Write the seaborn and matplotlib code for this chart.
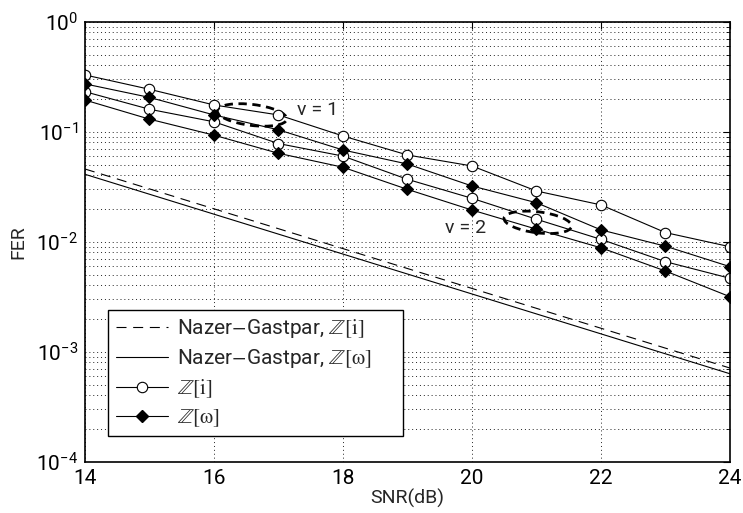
import matplotlib
matplotlib.use("Agg")
import matplotlib.pyplot as plt
import seaborn as sns
from matplotlib.patches import Ellipse
from matplotlib.lines import Line2D
from matplotlib.transforms import IdentityTransform

# data
snr = [14, 15, 16, 17, 18, 19, 20, 21, 22, 23, 24]
zi_v1 = [0.328, 0.243, 0.175, 0.142, 0.0914, 0.0614, 0.0488, 0.0289, 0.0216, 0.0121, 0.0090]
zw_v1 = [0.272, 0.205, 0.142, 0.104, 0.0682, 0.0508, 0.0321, 0.0226, 0.0128, 0.0091, 0.00593]
zi_v2 = [0.231, 0.160, 0.123, 0.078, 0.060, 0.0369, 0.0248, 0.0160, 0.0105, 0.00658, 0.00465]
zw_v2 = [0.194, 0.130, 0.093, 0.0636, 0.0475, 0.0299, 0.0194, 0.0130, 0.0088, 0.00541, 0.00316]

# Nazer-Gastpar bounds (straight lines on the log axis)
ng_snr = [14, 24]
ng_zi = [0.0458, 0.00071]
ng_zw = [0.0410, 0.00063]

sns.set_style("white")
plt.rcParams["font.family"] = ["Roboto", "DejaVu Sans"]
plt.rcParams["mathtext.fontset"] = "stix"

fig = plt.figure(figsize=(7.43, 5.13), dpi=100)
ax = fig.add_axes([85 / 743, 1 - 461.7 / 513, 645 / 743, 440 / 513])

line_kw = dict(color="black", linewidth=0.8, ax=ax)
ax.plot(ng_snr, ng_zi, color="black", lw=0.8, dashes=(9, 6))
ax.plot(ng_snr, ng_zw, color="black", lw=0.8)

for vals in (zi_v1, zi_v2):
    sns.lineplot(x=snr, y=vals, marker="o", markersize=7.5, markerfacecolor="white",
                 markeredgecolor="black", markeredgewidth=0.8, **line_kw)
for vals in (zw_v1, zw_v2):
    sns.lineplot(x=snr, y=vals, marker="D", markersize=6.5, markerfacecolor="black",
                 markeredgecolor="black", markeredgewidth=0.8, **line_kw)

ax.set_yscale("log")
ax.set_xlim(14, 24)
ax.set_ylim(1e-4, 1)
ax.set_xticks([14, 16, 18, 20, 22, 24])
ax.xaxis.set_minor_locator(matplotlib.ticker.NullLocator())

grid_kw = dict(color="#222222", linewidth=0.7, linestyle=(0, (1, 3)))
ax.grid(True, which="major", **grid_kw)
ax.yaxis.grid(True, which="minor", **grid_kw)
ax.tick_params(which="both", direction="in", top=True, right=True, colors="black",
               labelsize=15, pad=5)
ax.tick_params(which="major", length=5, width=0.8)
ax.tick_params(which="minor", length=3, width=0.6)
for s in ax.spines.values():
    s.set_color("black")
    s.set_linewidth(1.2)

ax.set_xlabel("SNR(dB)", fontsize=14, labelpad=1)
ax.set_ylabel("FER", fontsize=14, labelpad=6)

# dashed ellipses marking the v = 1 and v = 2 curves
def ring(x, y, w, h, angle):
    cx, cy = ax.transData.transform((x, y))
    ax.add_patch(Ellipse((cx, cy), w, h, angle=angle, transform=IdentityTransform(),
                         fill=False, edgecolor="black", lw=2.0, linestyle=(0, (3, 2))))

ring(16.59, 0.142, 70, 21, -7)
ring(21.02, 0.0150, 68, 21, -7)
ax.text(17.29, 0.157, "v = 1", fontsize=14, ha="left", va="center")
ax.text(19.58, 0.0133, "v = 2", fontsize=14, ha="left", va="center")

handles = [
    Line2D([], [], color="black", lw=0.8, dashes=(9, 6)),
    Line2D([], [], color="black", lw=0.8),
    Line2D([], [], color="black", lw=0.8, marker="o", markersize=7.5,
           markerfacecolor="white", markeredgewidth=0.8),
    Line2D([], [], color="black", lw=0.8, marker="D", markersize=6.5,
           markerfacecolor="black"),
]
labels = [r"Nazer$-$Gastpar, $\mathbb{Z}[\mathrm{i}]$",
          r"Nazer$-$Gastpar, $\mathbb{Z}[\mathrm{ω}]$",
          r"$\mathbb{Z}[\mathrm{i}]$",
          r"$\mathbb{Z}[\mathrm{ω}]$"]
leg = ax.legend(handles, labels, loc="lower left",
                bbox_to_anchor=(0.036, 0.058, 0.457, 0.3), mode="expand",
                borderaxespad=0, fontsize=15, handlelength=2.5, handletextpad=0.45,
                labelspacing=0.35, borderpad=0.35, fancybox=False, framealpha=1)
leg.get_frame().set_edgecolor("black")
leg.get_frame().set_linewidth(1.0)

fig.savefig("out.png", dpi=100)
